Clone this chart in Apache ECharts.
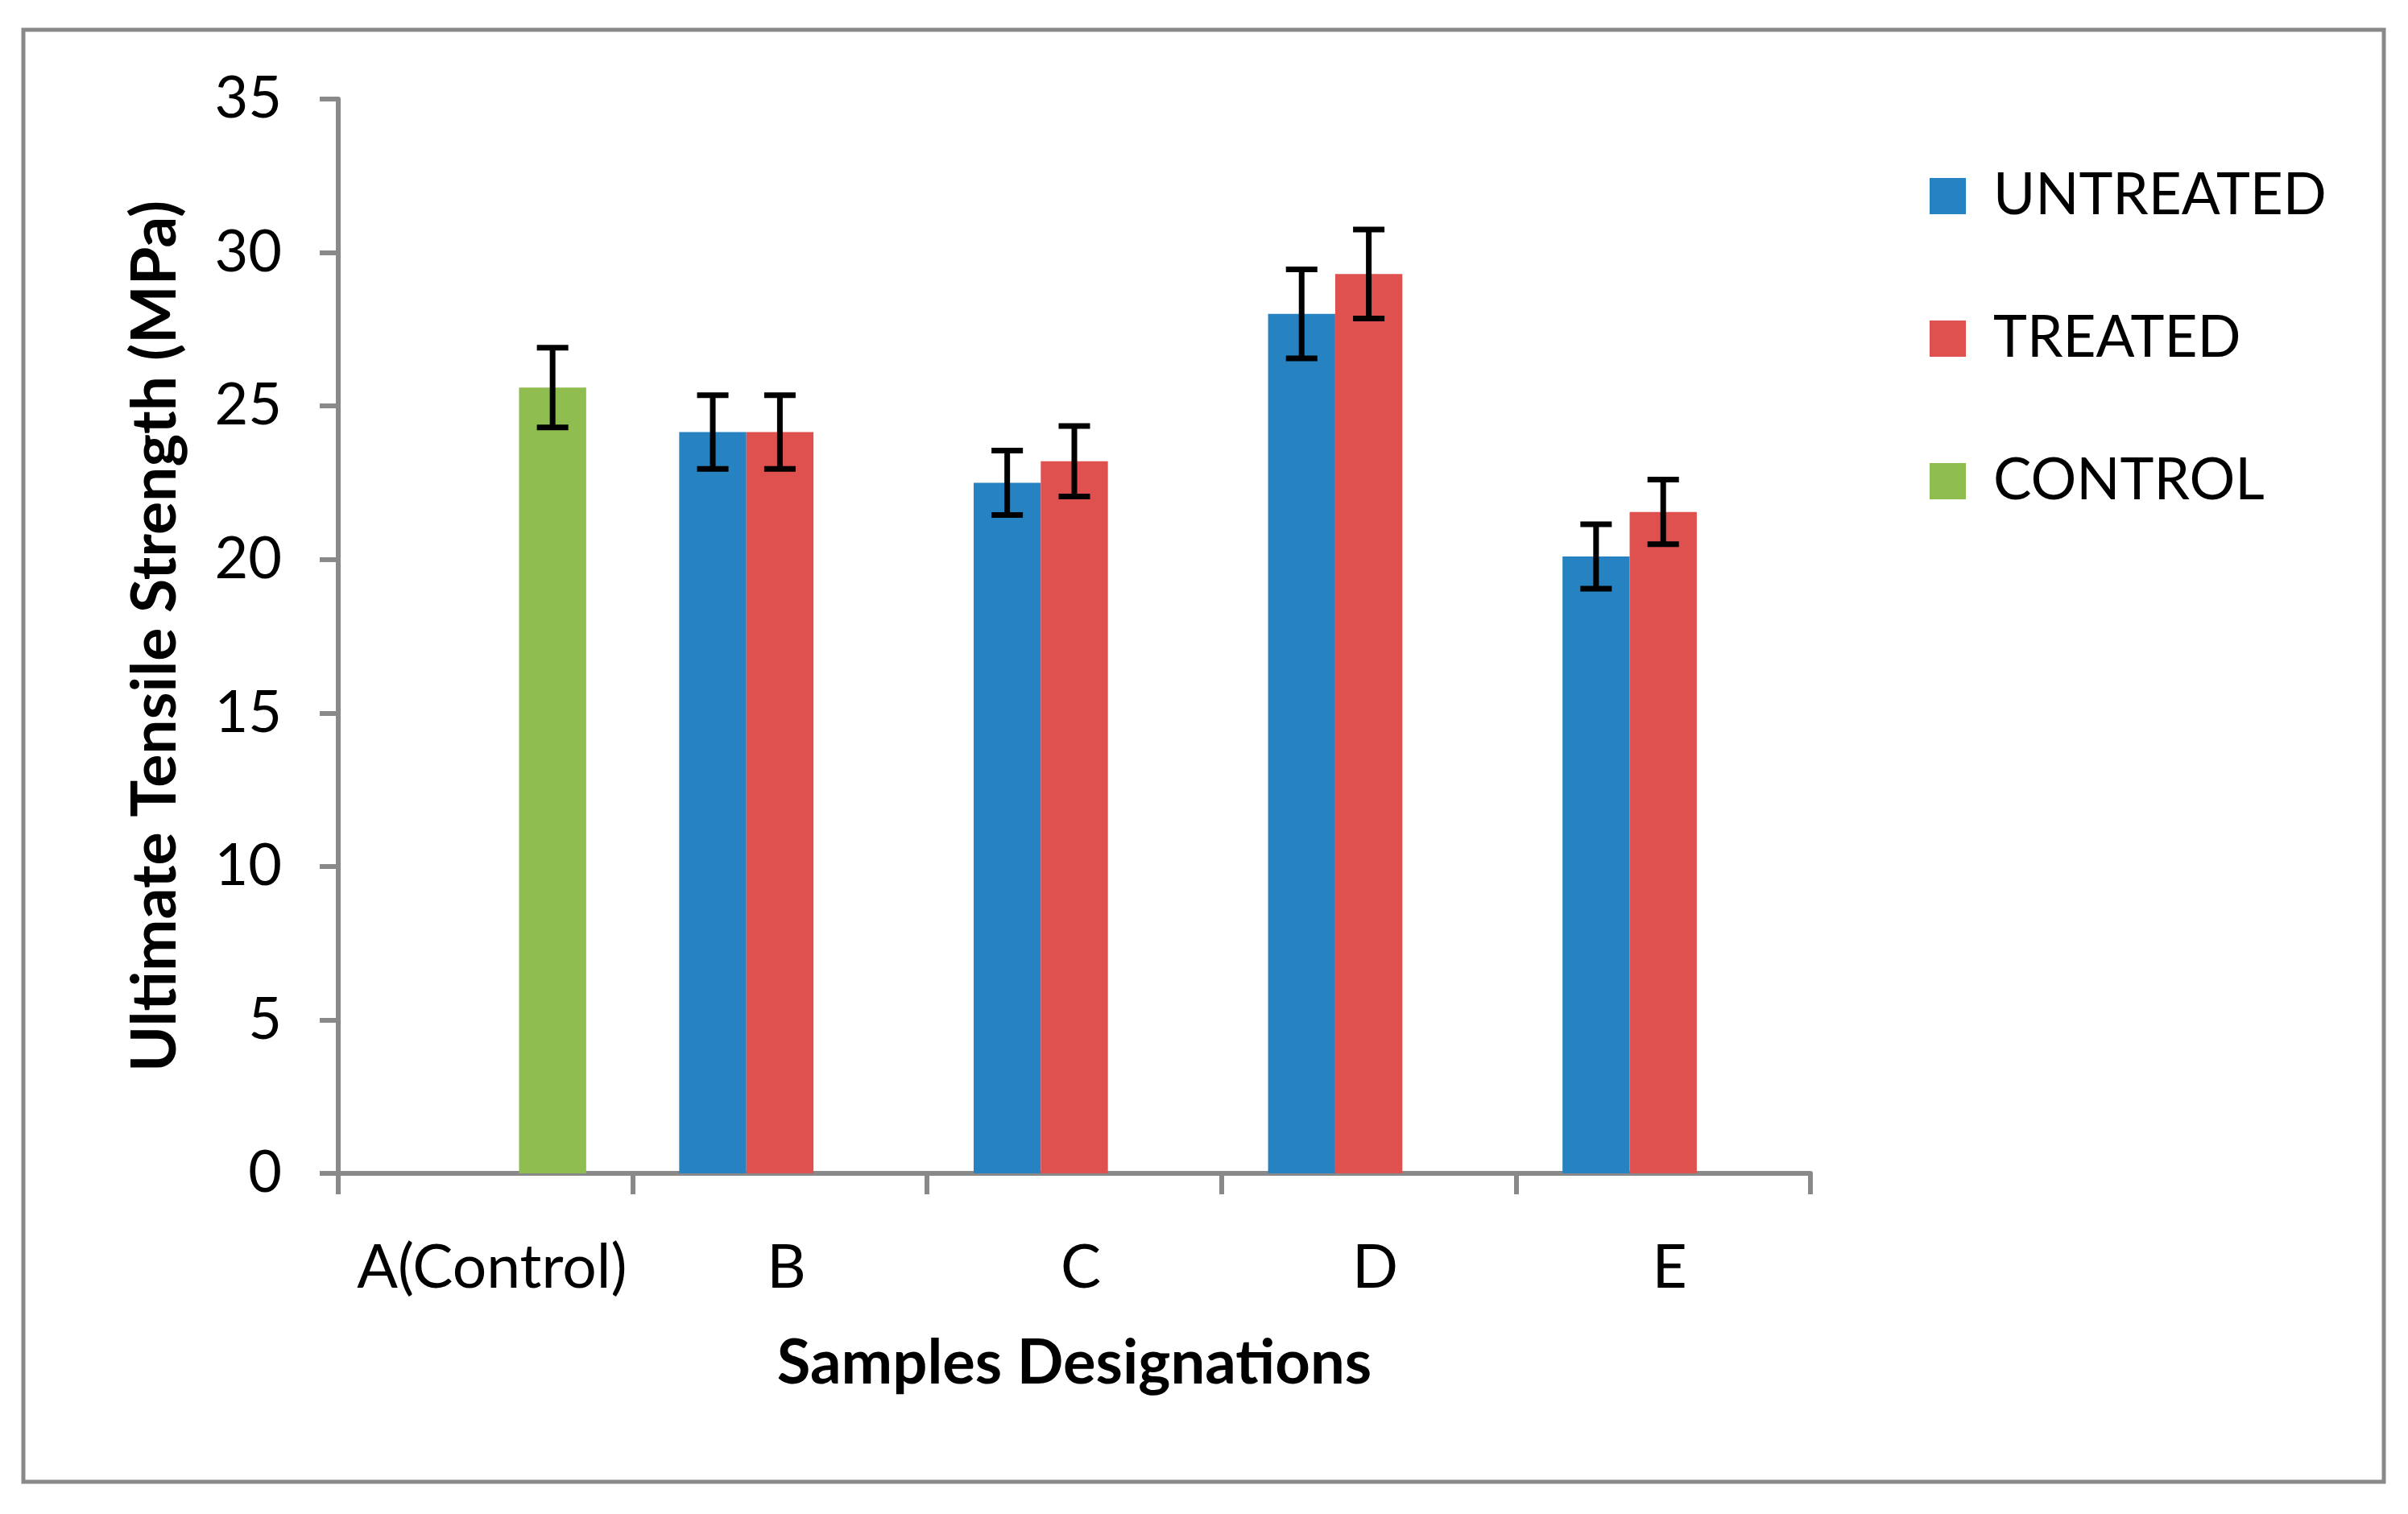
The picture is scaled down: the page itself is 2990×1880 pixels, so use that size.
<!DOCTYPE html>
<html>
<head>
<meta charset="utf-8">
<script src="https://cdn.jsdelivr.net/npm/echarts@6/dist/echarts.min.js"></script>
<style>
html,body{margin:0;padding:0;background:#fff;}
#chart{width:2990px;height:1880px;}
</style>
</head>
<body>
<div id="chart"></div>
<script>
const categories = ['A(Control)', 'B', 'C', 'D', 'E'];
const seriesNames = ['UNTREATED', 'TREATED', 'CONTROL'];
const untreated = [null, 24.15, 22.5, 28.0, 20.1];
const untreatedErr = [null, 1.2, 1.05, 1.45, 1.05];
const treated = [null, 24.15, 23.2, 29.3, 21.55];
const treatedErr = [null, 1.2, 1.15, 1.45, 1.05];
const control = [25.6, null, null, null, null];
const controlErr = [1.3, null, null, null, null];
const yTicks = [0, 5, 10, 15, 20, 25, 30, 35];

const colors = ['#2682C1', '#DF514F', '#8FBD50'];
const BAR_FRAC = 0.228;
const FONT = 'Lato';

function errData(vals, errs) {
  const out = [];
  vals.forEach(function (v, i) {
    if (v !== null && errs[i] !== null) out.push([i, v, errs[i]]);
  });
  return out;
}

function errSeries(vals, errs, slot) {
  return {
    type: 'custom',
    z: 10,
    silent: true,
    data: errData(vals, errs),
    encode: { x: 0, y: 1 },
    renderItem: function (params, api) {
      const i = api.value(0), v = api.value(1), e = api.value(2);
      const band = api.size([1, 0])[0];
      const bw = band * BAR_FRAC;
      const x = api.coord([i, v])[0] + slot * bw;
      const yt = api.coord([i, v + e])[1];
      const yb = api.coord([i, v - e])[1];
      const hc = 19.5;
      const st = { stroke: '#000', lineWidth: 7 };
      return {
        type: 'group',
        children: [
          { type: 'line', shape: { x1: x, y1: yt, x2: x, y2: yb }, style: st },
          { type: 'line', shape: { x1: x - hc, y1: yt, x2: x + hc, y2: yt }, style: st },
          { type: 'line', shape: { x1: x - hc, y1: yb, x2: x + hc, y2: yb }, style: st }
        ]
      };
    }
  };
}

const chart = echarts.init(document.getElementById('chart'));
const axisLineStyle = { color: '#898989', width: 6 };

chart.setOption({
  backgroundColor: '#fff',
  animation: false,
  textStyle: { fontFamily: FONT, color: '#000' },
  graphic: [{
    type: 'rect',
    shape: { x: 29, y: 37, width: 2931, height: 1803 },
    style: { fill: 'none', stroke: '#898989', lineWidth: 5 },
    silent: true
  }],
  grid: { left: 420, right: 742, top: 123, bottom: 423, containLabel: false },
  legend: {
    orient: 'vertical',
    left: 2396,
    top: 208,
    padding: 0,
    itemWidth: 45,
    itemHeight: 45,
    itemGap: 106,
    icon: 'rect',
    data: seriesNames,
    textStyle: { fontFamily: FONT, fontSize: 71, color: '#000', padding: [0, 0, 0, 29] }
  },
  xAxis: {
    type: 'category',
    data: categories,
    boundaryGap: true,
    axisLine: { show: true, lineStyle: axisLineStyle },
    axisTick: { show: true, inside: false, length: 26, alignWithLabel: false, lineStyle: axisLineStyle },
    axisLabel: { fontFamily: FONT, fontSize: 75, color: '#000', margin: 80, interval: 0, padding: [0, 0, 0, 16] },
    splitLine: { show: false },
    name: 'Samples Designations',
    nameLocation: 'middle',
    nameGap: 198,
    nameTextStyle: { fontFamily: FONT, fontSize: 76, fontWeight: 'bold', color: '#000' }
  },
  yAxis: {
    type: 'value',
    min: yTicks[0],
    max: yTicks[yTicks.length - 1],
    interval: 5,
    axisLine: { show: true, lineStyle: axisLineStyle },
    axisTick: { show: true, inside: false, length: 23, lineStyle: axisLineStyle },
    axisLabel: { fontFamily: FONT, fontSize: 72, color: '#000', margin: 70 },
    splitLine: { show: false },
    name: 'Ultimate Tensile Strength (MPa)',
    nameLocation: 'middle',
    nameGap: 188,
    nameRotate: 90,
    nameTextStyle: { fontFamily: FONT, fontSize: 77, fontWeight: 'bold', color: '#000' }
  },
  series: [
    { name: seriesNames[0], type: 'bar', data: untreated, barWidth: (BAR_FRAC * 100) + '%', barGap: '0%', itemStyle: { color: colors[0] } },
    { name: seriesNames[1], type: 'bar', data: treated, barWidth: (BAR_FRAC * 100) + '%', barGap: '0%', itemStyle: { color: colors[1] } },
    { name: seriesNames[2], type: 'bar', data: control, barWidth: (BAR_FRAC * 100) + '%', barGap: '0%', itemStyle: { color: colors[2] } },
    errSeries(untreated, untreatedErr, -1),
    errSeries(treated, treatedErr, 0),
    errSeries(control, controlErr, 1)
  ]
});
</script>
</body>
</html>
